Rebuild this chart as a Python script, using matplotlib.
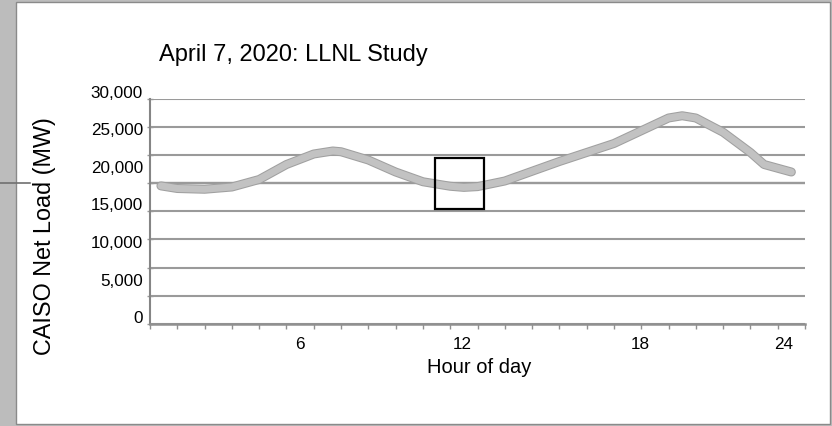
import numpy as np
import matplotlib
matplotlib.use("Agg")
import matplotlib.pyplot as plt
from matplotlib.patches import Rectangle
import matplotlib.patheffects as pe

plt.rcParams['font.family'] = ['Liberation Sans', 'DejaVu Sans']

# ---- data ----
hours = [0.4, 1, 2, 3, 4, 5, 6, 6.7, 7, 8, 9, 10, 11, 11.5, 12, 13, 14, 15, 16,
         17, 18, 19, 19.5, 20, 21, 22, 22.5, 23, 23.5]
net_load_mw = [17350, 17000, 16900, 17200, 18200, 20200, 21600, 22000, 21900,
               20800, 19200, 17900, 17300, 17150, 17250, 18000, 19300, 20600,
               21800, 23000, 24700, 26400, 26700, 26400, 24500, 21800, 20200,
               19700, 19200]
ytick_values = [0, 5000, 10000, 15000, 20000, 25000, 30000]
ytick_labels = ['0', '5,000', '10,000', '15,000', '20,000', '25,000', '30,000']
xtick_labels = ['6', '12', '18', '24']
grid_levels = [0, 3750, 7500, 11250, 15000, 18750, 22500, 26250, 30000]
box_hours = (10.45, 12.22)
box_mw = (14270, 21030)
title = 'April 7, 2020: LLNL Study'
xlabel = 'Hour of day'
ylabel = 'CAISO Net Load (MW)'

W_PX, H_PX = 832, 427
fig = plt.figure(figsize=(W_PX / 100, H_PX / 100), dpi=100)
fig.patch.set_facecolor('#bcbcbc')

def fx(px):
    return px / W_PX

def fy(py):
    return 1 - py / H_PX

# white panel inside halftone border
panel = Rectangle((fx(16), fy(425)), fx(830) - fx(16), fy(3) - fy(425),
                  transform=fig.transFigure, facecolor='white',
                  edgecolor='#8a8a8a', lw=1.0, zorder=-5)
fig.patches.append(panel)

grid_col = '#9a9a9a'

# grid axes
L, R = 150, 805
ax = fig.add_axes([fx(L), fy(325), fx(R) - fx(L), fy(99.5) - fy(325)])
ax.patch.set_alpha(0)
ax.set_xlim(0, 24)
ax.set_ylim(grid_levels[0], grid_levels[-1])
ax.set_yticks(grid_levels)
ax.set_yticklabels([])
ax.yaxis.grid(True, color=grid_col, lw=1.5, linestyle='-')
ax.tick_params(axis='y', length=4, direction='inout', color=grid_col, width=1)
for s in ['top', 'right']:
    ax.spines[s].set_visible(False)
ax.spines['left'].set_color('#858585')
ax.spines['left'].set_linewidth(1.5)
ax.spines['bottom'].set_color('#909090')
ax.spines['bottom'].set_linewidth(1.8)
ax.set_xticks(np.arange(0, 25, 1), minor=True)
ax.tick_params(axis='x', which='minor', length=3.5, width=1, color='#909090')
ax.set_xticks([5.5, 11.45, 17.95, 23.2])
ax.set_xticklabels(xtick_labels)
ax.tick_params(axis='x', which='major', length=0, pad=8.5, labelsize=12.3)
# emphasised gridline, extending into the margin
ax.axhline(grid_levels[5], color='#707070', lw=1.6, zorder=1)
ax.axhline(grid_levels[5], xmin=-L / (R - L), xmax=(30 - L) / (R - L),
           color='#707070', lw=1.2, clip_on=False)

# label / data axes
axl = fig.add_axes([fx(L), fy(317), fx(R) - fx(L), fy(92) - fy(317)])
axl.patch.set_alpha(0)
axl.set_xlim(0, 24)
axl.set_ylim(0, 30000)
for s in axl.spines.values():
    s.set_visible(False)
axl.set_xticks([])
axl.set_yticks(ytick_values)
axl.set_yticklabels(ytick_labels)
axl.tick_params(axis='y', length=0, pad=5, labelsize=12.3)

axl.plot(hours, net_load_mw, color='#c2c2c2', lw=5, solid_capstyle='round',
         path_effects=[pe.Stroke(linewidth=6.5, foreground='#a0a0a0'), pe.Normal()],
         clip_on=False, zorder=3)
axl.add_patch(Rectangle((box_hours[0], box_mw[0]), box_hours[1] - box_hours[0],
                        box_mw[1] - box_mw[0], fill=False, ec='black', lw=1.6,
                        zorder=4))

fig.text(fx(159), fy(61), title, fontsize=17, ha='left', va='baseline')
fig.text(fx(479.5), fy(373), xlabel, fontsize=14.5, ha='center', va='baseline')
fig.text(fx(45), fy(236), ylabel, fontsize=16.8, rotation=90, ha='center',
         va='center')

fig.savefig('out.png', dpi=100, facecolor=fig.get_facecolor())
